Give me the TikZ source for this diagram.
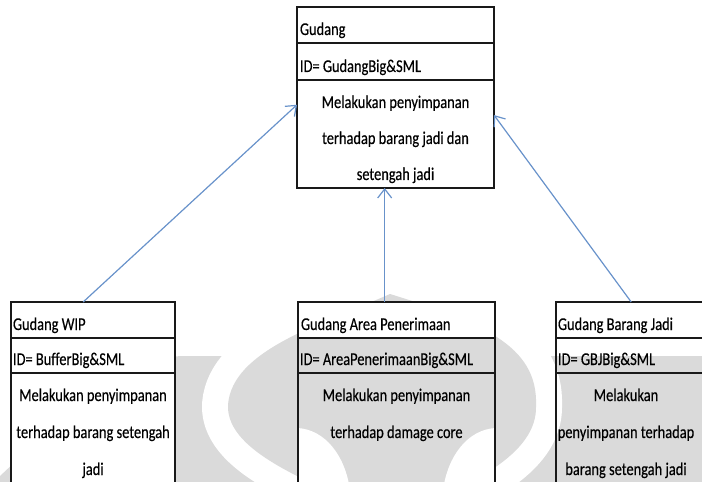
\documentclass[tikz,border=0pt]{standalone}
\usepackage{fontspec}
\setmainfont{Carlito}[FakeStretch=0.8,FakeBold=0.3]
\usetikzlibrary{arrows.meta,calc}
\definecolor{boxline}{RGB}{25,25,25}
\definecolor{arrowblue}{RGB}{104,146,202}
\definecolor{wm}{RGB}{218,218,218}
\begin{document}
\begin{tikzpicture}[x=1bp,y=-1bp,
  every node/.style={inner sep=0pt,outer sep=0pt},
  box/.style={draw=boxline,line width=1.5bp,rectangle,anchor=north west},
  rule/.style={draw=boxline,line width=1.4bp},
  lbl/.style={anchor=base west,font=\fontsize{18bp}{36bp}\selectfont,text=black},
  bodyline/.style={anchor=base,font=\fontsize{18bp}{36bp}\selectfont,text=black},
  arr/.style={draw=arrowblue,line width=1.2bp,
    -{Straight Barb[length=9bp,width=14bp,line width=1.2bp]}},
]
\useasboundingbox (0,0) rectangle (702,482);
\clip (0,0) rectangle (702,482);

% faint background emblem
\fill[wm] (0,476) .. controls (60,420) and (120,362) .. (180,356)
  -- (702,356) -- (702,490) -- (0,490) -- cycle;
\def\lens{(390,294) .. controls (320,325) and (232,350) .. (228,405)
  .. controls (226,455) and (320,485) .. (392,520)
  .. controls (470,485) and (538,455) .. (536,405)
  .. controls (538,345) and (480,322) .. (390,294) -- cycle}
\draw[white,line width=52bp,line join=round] \lens;
\fill[wm] \lens;
\fill[white] (298,428) .. controls (325,430) and (345,455) .. (350,490) -- (298,490) -- cycle;
\fill[white] (495,428) .. controls (468,430) and (448,455) .. (443,490) -- (495,490) -- cycle;

% opaque parts of the lower boxes
\fill[white] (11,302) rectangle (175,490);
\fill[white] (298,302) rectangle (495,338);
\fill[white] (556,302) rectangle (716,338);

% top box: Gudang
\node[box,minimum width=197bp,minimum height=181bp] (gudang) at (297,7) {};
\draw[rule] (297,43) -- (494,43);
\draw[rule] (297,80) -- (494,80);
\node[lbl] (gudangT) at (300,35) {Gudang};
\node[lbl] (gudangI) at (300,72) {ID= GudangBig\&SML};
\node[bodyline] (gudangB1) at (395.5,108) {Melakukan penyimpanan};
\node[bodyline] (gudangB2) at (395.5,144) {terhadap barang jadi dan};
\node[bodyline] (gudangB3) at (395.5,180) {setengah jadi};

% lower left box: Gudang WIP
\node[box,minimum width=164bp,minimum height=200bp] (wip) at (11,302) {};
\draw[rule] (11,338) -- (175,338);
\draw[rule] (11,373) -- (175,373);
\node[lbl] (wipT) at (13,330) {Gudang WIP};
\node[lbl] (wipI) at (13,365) {ID= BufferBig\&SML};
\node[bodyline] (wipB1) at (93,401) {Melakukan penyimpanan};
\node[bodyline] (wipB2) at (93,438) {terhadap barang setengah};
\node[bodyline] (wipB3) at (93,475) {jadi};

% lower middle box: Gudang Area Penerimaan
\node[box,minimum width=197bp,minimum height=200bp] (area) at (298,302) {};
\draw[rule] (298,338) -- (495,338);
\draw[rule] (298,373) -- (495,373);
\node[lbl] (areaT) at (301,330) {Gudang Area Penerimaan};
\node[lbl] (areaI) at (300,365) {ID= AreaPenerimaanBig\&SML};
\node[bodyline] (areaB1) at (396.5,401) {Melakukan penyimpanan};
\node[bodyline] (areaB2) at (396.5,438) {terhadap damage core};

% lower right box: Gudang Barang Jadi
\node[box,minimum width=160bp,minimum height=200bp] (gbj) at (556,302) {};
\draw[rule] (556,338) -- (716,338);
\draw[rule] (556,373) -- (716,373);
\node[lbl] (gbjT) at (558,330) {Gudang Barang Jadi};
\node[lbl] (gbjI) at (558,365) {ID= GBJBig\&SML};
\node[bodyline] (gbjB1) at (626,401) {Melakukan};
\node[bodyline] (gbjB2) at (626,438) {penyimpanan terhadap};
\node[bodyline] (gbjB3) at (626,475) {barang setengah jadi};

% connectors
\draw[arr] ($(wip.north west)!0.44!(wip.north east)$)
  -- ($(gudang.north west)!0.54!(gudang.south west)$);
\coordinate (areaFoot) at ($(area.north west)!0.44!(area.north east)$);
\draw[arr] (areaFoot) -- (areaFoot |- gudang.south);
\draw[arr] ($(gbj.north west)!0.47!(gbj.north east)$)
  -- ($(gudang.north east)!0.597!(gudang.south east)$);
\end{tikzpicture}
\end{document}
